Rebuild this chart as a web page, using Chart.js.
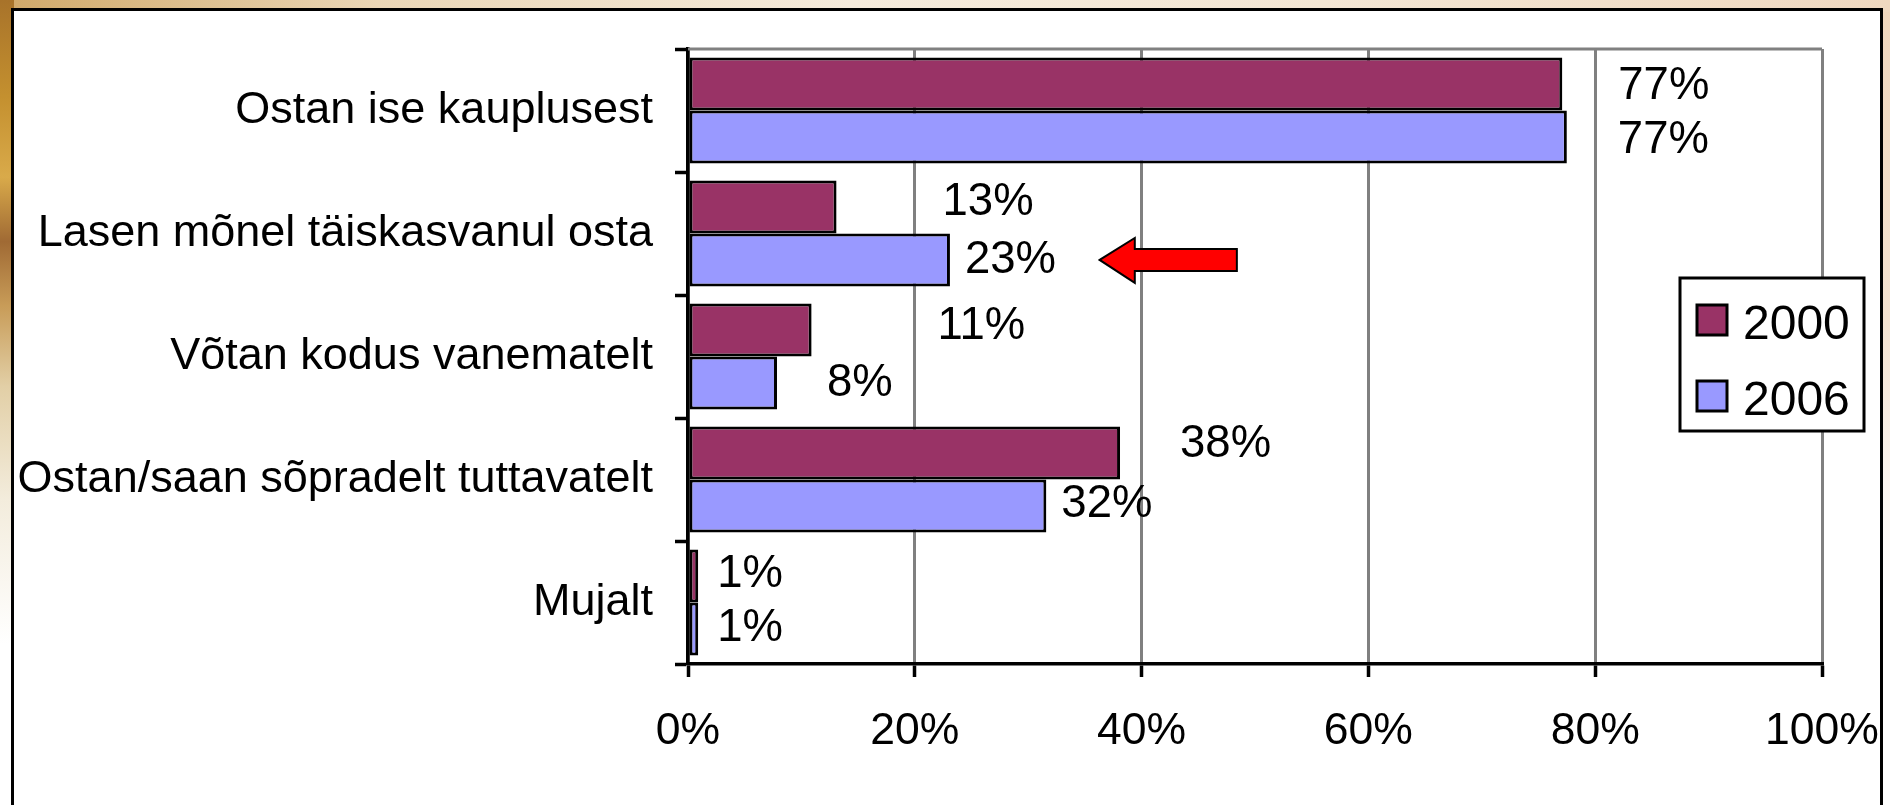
<!DOCTYPE html>
<html>
<head>
<meta charset="utf-8">
<script src="https://cdn.jsdelivr.net/npm/chart.js@4/dist/chart.umd.min.js"></script>
<style>
  html, body { margin:0; padding:0; }
  body {
    width:1890px; height:805px; overflow:hidden; position:relative;
    background:
      linear-gradient(to bottom, #a8732a 0%, #c4902f 12%, #d9aa4a 22%, #a06a34 30%, #c89c58 38%, #e2cfa6 48%, #f3ecdc 62%, #ffffff 80%) left top / 14px 100% no-repeat,
      linear-gradient(to right, #d0a868 0%, #ead6b6 20%, #f5ebdc 45%, #f3e6d4 70%, #efd8c0 100%) left top / 100% 12px no-repeat,
      linear-gradient(to bottom, #efd6bc 0%, #f4e2d0 40%, #fbf4ee 60%, #ffffff 75%) right top / 10px 100% no-repeat,
      #ffffff;
  }
  #box {
    position:absolute; left:11px; top:8px; width:1866px; height:900px;
    border:3px solid #000; background:#fff; box-sizing:content-box;
  }
  #c { position:absolute; left:0; top:0; }
</style>
</head>
<body>
<div id="box"></div>
<canvas id="c" width="1890" height="805"></canvas>
<script>
// ---- data ----
const categories = [
  'Ostan ise kauplusest',
  'Lasen mõnel täiskasvanul osta',
  'Võtan kodus vanematelt',
  'Ostan/saan sõpradelt tuttavatelt',
  'Mujalt'
];
const seriesNames = ['2000', '2006'];
const values2000 = [77.1, 13.1, 10.9, 38.1, 0.9];
const values2006 = [77.5, 23.1, 7.85, 31.6, 0.9];
const labels2000 = ['77%', '13%', '11%', '38%', '1%'];
const labels2006 = ['77%', '23%', '8%', '32%', '1%'];
const xTickValues = [0, 20, 40, 60, 80, 100];

// ---- styles ----
const colors = ['#993366', '#9999FF'];
// per-label nudges (px) relative to the bar end, as placed in the original
const labelDx = [[56, 106, 126, 60, 19], [51, 15, 50, 15, 19]];
const labelDy = [[2, -5, -4, -9, -2], [4, 1, 1, -1, 0]];
const FONT = "'Liberation Sans', Arial, sans-serif";

Chart.defaults.font.family = FONT;
Chart.defaults.font.size = 45;
Chart.defaults.color = '#000';

const dataLabelPlugin = {
  id: 'dataLabels',
  afterDatasetsDraw(chart) {
    const ctx = chart.ctx;
    const texts = [labels2000, labels2006];
    ctx.save();
    ctx.font = '45.5px ' + FONT;
    ctx.fillStyle = '#000';
    ctx.textAlign = 'left';
    ctx.textBaseline = 'middle';
    chart.data.datasets.forEach((ds, di) => {
      const meta = chart.getDatasetMeta(di);
      meta.data.forEach((bar, i) => {
        ctx.fillText(texts[di][i], bar.x + labelDx[di][i], bar.y + labelDy[di][i]);
      });
    });
    ctx.restore();
  }
};

const frameAndArrowPlugin = {
  id: 'frameArrow',
  beforeDatasetsDraw(chart) {
    const { ctx, chartArea } = chart;
    ctx.save();
    ctx.strokeStyle = '#808080';
    ctx.lineWidth = 3;
    ctx.beginPath();
    ctx.moveTo(chartArea.left, chartArea.top);
    ctx.lineTo(chartArea.right, chartArea.top);
    ctx.stroke();
    ctx.restore();
  },
  afterDraw(chart) {
    const ctx = chart.ctx;
    const xs = chart.scales.x;
    // arrow pointing at the 2006 bar of the second category
    const target = chart.getDatasetMeta(1).data[1];
    const cy = target.y;
    const tipX = xs.getPixelForValue(36.3);
    const headX = xs.getPixelForValue(39.4);
    const endX = xs.getPixelForValue(48.4);
    ctx.save();
    ctx.beginPath();
    ctx.moveTo(tipX, cy);
    ctx.lineTo(headX, cy - 22);
    ctx.lineTo(headX, cy - 11);
    ctx.lineTo(endX, cy - 11);
    ctx.lineTo(endX, cy + 11);
    ctx.lineTo(headX, cy + 11);
    ctx.lineTo(headX, cy + 23);
    ctx.closePath();
    ctx.fillStyle = '#ff0000';
    ctx.fill();
    ctx.lineWidth = 2;
    ctx.strokeStyle = '#000';
    ctx.stroke();

    // legend box
    const bx = 1680, by = 278, bw = 184, bh = 153;
    ctx.fillStyle = '#fff';
    ctx.fillRect(bx, by, bw, bh);
    ctx.lineWidth = 3;
    ctx.strokeStyle = '#000';
    ctx.strokeRect(bx, by, bw, bh);
    ctx.font = '48px ' + FONT;
    ctx.textAlign = 'left';
    ctx.textBaseline = 'middle';
    chart.data.datasets.forEach((ds, i) => {
      const rowY = by + 42 + i * 76;
      ctx.fillStyle = ds.backgroundColor;
      ctx.fillRect(bx + 17, rowY - 15, 30, 30);
      ctx.lineWidth = 3;
      ctx.strokeStyle = '#000';
      ctx.strokeRect(bx + 17, rowY - 15, 30, 30);
      ctx.fillStyle = '#000';
      ctx.fillText(ds.label, bx + 63, rowY + 6);
    });
    ctx.restore();
  }
};

new Chart(document.getElementById('c'), {
  type: 'bar',
  data: {
    labels: categories,
    datasets: [
      { label: seriesNames[0], data: values2000, backgroundColor: colors[0], borderColor: '#000', borderWidth: 3, borderSkipped: false },
      { label: seriesNames[1], data: values2006, backgroundColor: colors[1], borderColor: '#000', borderWidth: 3, borderSkipped: false }
    ]
  },
  options: {
    indexAxis: 'y',
    responsive: false,
    animation: false,
    events: [],
    layout: { padding: { left: 0, top: 49, right: 68, bottom: 0 } },
    datasets: { bar: { categoryPercentage: 0.86, barPercentage: 1.0 } },
    plugins: { legend: { display: false }, tooltip: { enabled: false } },
    scales: {
      x: {
        type: 'linear',
        min: 0, max: 100,
        afterBuildTicks(scale) { scale.ticks = xTickValues.map(v => ({ value: v })); },
        afterFit(scale) { scale.height = 141; scale.paddingLeft = 0; scale.paddingRight = 0; },
        ticks: {
          callback: v => v + '%',
          padding: 28,
          font: { size: 44.5 },
          color: '#000',
          maxRotation: 0
        },
        grid: {
          color: '#808080',
          lineWidth: 3,
          tickColor: '#000',
          tickWidth: 3.5,
          tickLength: 13
        },
        border: { display: true, color: '#000', width: 3.5 }
      },
      y: {
        afterFit(scale) { scale.width = 688; scale.paddingTop = 0; scale.paddingBottom = 0; },
        ticks: { padding: 22, font: { size: 45 }, color: '#000' },
        grid: {
          offset: true,
          drawOnChartArea: false,
          tickColor: '#000',
          tickWidth: 3.5,
          tickLength: 13
        },
        border: { display: true, color: '#000', width: 3.5 }
      }
    }
  },
  plugins: [dataLabelPlugin, frameAndArrowPlugin]
});
</script>
</body>
</html>
